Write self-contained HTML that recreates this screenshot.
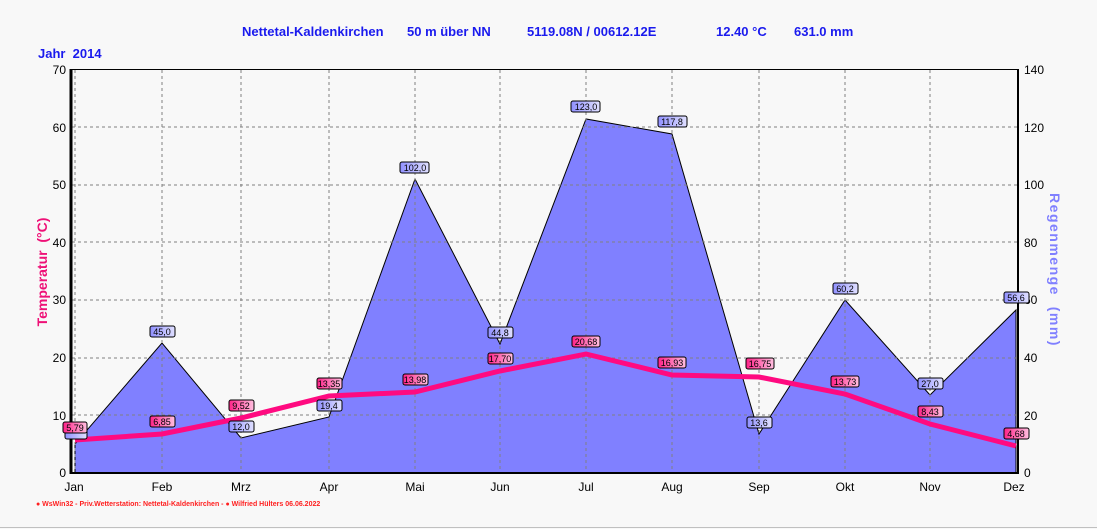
<!DOCTYPE html>
<html><head><meta charset="utf-8"><style>
html,body{margin:0;padding:0;background:#f8f8f8;}
svg{display:block;font-family:"Liberation Sans",Arial,sans-serif;}
</style></head><body>
<svg width="1097" height="529" viewBox="0 0 1097 529" xmlns="http://www.w3.org/2000/svg">
<defs>
<linearGradient id="pk" x1="0" y1="0" x2="1" y2="0"><stop offset="0" stop-color="#ff2288"/><stop offset="1" stop-color="#ffc0e0"/></linearGradient>
<linearGradient id="bl" x1="0" y1="0" x2="1" y2="0"><stop offset="0" stop-color="#9090ff"/><stop offset="1" stop-color="#e0e0ff"/></linearGradient>
</defs>
<rect width="1097" height="529" fill="#f8f8f8"/>
<g fill="#1a1aee" font-weight="bold" font-size="13">
<text x="242" y="36">Nettetal-Kaldenkirchen</text>
<text x="407" y="36">50 m über NN</text>
<text x="527" y="36">5119.08N / 00612.12E</text>
<text x="716" y="36">12.40 °C</text>
<text x="794" y="36">631.0 mm</text>
<text x="38" y="58">Jahr&#160; 2014</text>
</g>
<!-- rain area -->
<polygon fill="#8080ff" stroke="#000" stroke-width="1" points="75,473 75,444 162,343 241,438 329,417 415,179 500,344 586,119 672,134 759,434 845,300 930,395 1016,310 1016,473"/>
<!-- grid -->
<g stroke="#808080" stroke-dasharray="3,3" stroke-width="1">
<line x1="72" y1="127" x2="1018" y2="127"/><line x1="72" y1="185" x2="1018" y2="185"/>
<line x1="72" y1="242" x2="1018" y2="242"/><line x1="72" y1="300" x2="1018" y2="300"/>
<line x1="72" y1="358" x2="1018" y2="358"/><line x1="72" y1="415" x2="1018" y2="415"/>
<line x1="75" y1="70" x2="75" y2="473"/><line x1="162" y1="70" x2="162" y2="473"/>
<line x1="241" y1="70" x2="241" y2="473"/><line x1="329" y1="70" x2="329" y2="473"/>
<line x1="415" y1="70" x2="415" y2="473"/><line x1="500" y1="70" x2="500" y2="473"/>
<line x1="586" y1="70" x2="586" y2="473"/><line x1="672" y1="70" x2="672" y2="473"/>
<line x1="759" y1="70" x2="759" y2="473"/><line x1="845" y1="70" x2="845" y2="473"/>
<line x1="930" y1="70" x2="930" y2="473"/>
</g>
<!-- axes -->
<line x1="71" y1="69.5" x2="1019" y2="69.5" stroke="#000"/>
<line x1="71" y1="69" x2="71" y2="474" stroke="#000" stroke-width="3"/>
<line x1="1018" y1="69" x2="1018" y2="474" stroke="#000" stroke-width="2"/>
<line x1="70" y1="473" x2="1019" y2="473" stroke="#000" stroke-width="2"/>
<!-- tick labels -->
<g font-size="12" fill="#000" text-anchor="end">
<text x="66" y="74">70</text><text x="66" y="132">60</text><text x="66" y="189">50</text>
<text x="66" y="247">40</text><text x="66" y="304">30</text><text x="66" y="362">20</text>
<text x="66" y="420">10</text><text x="66" y="477">0</text>
</g>
<g font-size="12" fill="#000">
<text x="1024" y="74">140</text><text x="1024" y="132">120</text><text x="1024" y="189">100</text>
<text x="1024" y="247">80</text><text x="1024" y="304">60</text><text x="1024" y="362">40</text>
<text x="1024" y="420">20</text><text x="1024" y="477">0</text>
</g>
<g font-size="12" fill="#000" text-anchor="middle">
<text x="74" y="491">Jan</text><text x="162" y="491">Feb</text><text x="241" y="491">Mrz</text>
<text x="329" y="491">Apr</text><text x="415" y="491">Mai</text><text x="500" y="491">Jun</text>
<text x="586" y="491">Jul</text><text x="672" y="491">Aug</text><text x="759" y="491">Sep</text>
<text x="845" y="491">Okt</text><text x="930" y="491">Nov</text><text x="1014" y="491">Dez</text>
</g>
<text transform="translate(47,272) rotate(-90)" text-anchor="middle" font-size="14" font-weight="bold" fill="#ee1177">Temperatur&#160; (°C)</text>
<text transform="translate(1050,270) rotate(90)" text-anchor="middle" font-size="14" font-weight="bold" fill="#8080ff" letter-spacing="1.5">Regenmenge&#160; (mm)</text>
<!-- temp line -->
<polyline fill="none" stroke="#ff0a80" stroke-width="5" points="75,440 162,434 241,418 329,396 415,392 500,371 586,354 672,375 759,377 845,394 930,424 1016,446"/>
<!-- rain labels -->
<g font-size="9" text-anchor="middle" fill="#000">
<g stroke="#000" stroke-width="1">
<rect x="150" y="326" width="25" height="11" rx="2" fill="url(#bl)"/>
<rect x="229" y="421" width="25" height="11" rx="2" fill="url(#bl)"/>
<rect x="317" y="400" width="25" height="11" rx="2" fill="url(#bl)"/>
<rect x="400" y="162" width="29" height="11" rx="2" fill="url(#bl)"/>
<rect x="488" y="327" width="25" height="11" rx="2" fill="url(#bl)"/>
<rect x="571" y="101" width="29" height="11" rx="2" fill="url(#bl)"/>
<rect x="658" y="116" width="29" height="11" rx="2" fill="url(#bl)"/>
<rect x="747" y="417" width="25" height="11" rx="2" fill="url(#bl)"/>
<rect x="833" y="283" width="25" height="11" rx="2" fill="url(#bl)"/>
<rect x="918" y="378" width="25" height="11" rx="2" fill="url(#bl)"/>
<rect x="1004" y="292" width="25" height="11" rx="2" fill="url(#bl)"/>
<rect x="65" y="428" width="22" height="11" rx="2" fill="url(#bl)"/>
</g>
<text x="162" y="335">45,0</text><text x="241" y="430">12,0</text><text x="329" y="409">19,4</text>
<text x="415" y="171">102,0</text><text x="500" y="336">44,8</text><text x="586" y="110">123,0</text>
<text x="672" y="125">117,8</text><text x="759" y="426">13,6</text><text x="845" y="292">60,2</text>
<text x="930" y="387">27,0</text><text x="1016" y="301">56,6</text>
</g>
<!-- temp labels -->
<g font-size="9" text-anchor="middle" fill="#000">
<g stroke="#000" stroke-width="1">
<rect x="63" y="422" width="24" height="11" rx="2" fill="url(#pk)"/>
<rect x="150" y="416" width="25" height="11" rx="2" fill="url(#pk)"/>
<rect x="229" y="400" width="25" height="11" rx="2" fill="url(#pk)"/>
<rect x="317" y="378" width="25" height="11" rx="2" fill="url(#pk)"/>
<rect x="403" y="374" width="25" height="11" rx="2" fill="url(#pk)"/>
<rect x="488" y="353" width="25" height="11" rx="2" fill="url(#pk)"/>
<rect x="572" y="336" width="28" height="11" rx="2" fill="url(#pk)"/>
<rect x="658" y="357" width="28" height="11" rx="2" fill="url(#pk)"/>
<rect x="746" y="358" width="28" height="11" rx="2" fill="url(#pk)"/>
<rect x="831" y="376" width="28" height="11" rx="2" fill="url(#pk)"/>
<rect x="918" y="406" width="25" height="11" rx="2" fill="url(#pk)"/>
<rect x="1004" y="428" width="25" height="11" rx="2" fill="url(#pk)"/>
</g>
<text x="75" y="431">5,79</text><text x="162" y="425">6,85</text><text x="241" y="409">9,52</text>
<text x="329" y="387">13,35</text><text x="415" y="383">13,98</text><text x="500" y="362">17,70</text>
<text x="586" y="345">20,68</text><text x="672" y="366">16,93</text><text x="760" y="367">16,75</text>
<text x="845" y="385">13,73</text><text x="930" y="415">8,43</text><text x="1016" y="437">4,68</text>
</g>
<text x="36" y="506" font-size="7" font-weight="bold" fill="#ff2020">● WsWin32 - Priv.Wetterstation: Nettetal-Kaldenkirchen - ● Wilfried Hülters 06.06.2022</text>
<line x1="0" y1="527.5" x2="1097" y2="527.5" stroke="#c0c0c0"/>
</svg>
</body></html>
